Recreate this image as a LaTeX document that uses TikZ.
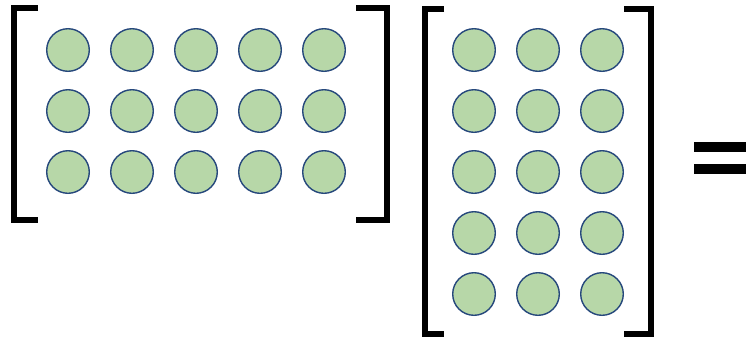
\documentclass[tikz,border=0pt]{standalone}
\usepackage{xcolor}
\usepackage{tikz}
\usetikzlibrary{positioning}
\definecolor{mygreen}{RGB}{183,215,168}
\definecolor{myblue}{RGB}{38,72,124}
\definecolor{mydark}{RGB}{0,0,0}
\tikzset{
  entry/.style={circle, draw=myblue, fill=mygreen, line width=1.4pt,
    minimum size=42.6pt, inner sep=0pt},
  bracket/.style={line width=6pt, color=mydark, line cap=butt, line join=miter},
  eqbar/.style={fill=mydark}
}
\begin{document}
\begin{tikzpicture}[x=1pt, y=-1pt]
  \useasboundingbox (0,0) rectangle (746,338);

  % left matrix, 3 x 5
  \node[entry] (a11) at (68,50) {};
  \node[entry] (a12) at (132,50) {};
  \node[entry] (a13) at (196,50) {};
  \node[entry] (a14) at (260,50) {};
  \node[entry] (a15) at (324,50) {};
  \node[entry] (a21) at (68,111) {};
  \node[entry] (a22) at (132,111) {};
  \node[entry] (a23) at (196,111) {};
  \node[entry] (a24) at (260,111) {};
  \node[entry] (a25) at (324,111) {};
  \node[entry] (a31) at (68,172) {};
  \node[entry] (a32) at (132,172) {};
  \node[entry] (a33) at (196,172) {};
  \node[entry] (a34) at (260,172) {};
  \node[entry] (a35) at (324,172) {};

  \draw[bracket] (38,8) -- (14,8) -- (14,220) -- (38,220);
  \draw[bracket] (356,8) -- (387,8) -- (387,220) -- (356,220);

  % right matrix, 5 x 3
  \node[entry] (b11) at (474,50) {};
  \node[entry] (b12) at (538,50) {};
  \node[entry] (b13) at (602,50) {};
  \node[entry] (b21) at (474,111) {};
  \node[entry] (b22) at (538,111) {};
  \node[entry] (b23) at (602,111) {};
  \node[entry] (b31) at (474,172) {};
  \node[entry] (b32) at (538,172) {};
  \node[entry] (b33) at (602,172) {};
  \node[entry] (b41) at (474,233) {};
  \node[entry] (b42) at (538,233) {};
  \node[entry] (b43) at (602,233) {};
  \node[entry] (b51) at (474,294) {};
  \node[entry] (b52) at (538,294) {};
  \node[entry] (b53) at (602,294) {};

  \draw[bracket] (444,9) -- (424.5,9) -- (424.5,333.5) -- (444,333.5);
  \draw[bracket] (624,9) -- (651,9) -- (651,333.5) -- (624,333.5);

  % equals sign
  \fill[eqbar] (693.5,142.3) rectangle (746,152.3);
  \fill[eqbar] (693.5,164.3) rectangle (746,174.3);
\end{tikzpicture}
\end{document}
